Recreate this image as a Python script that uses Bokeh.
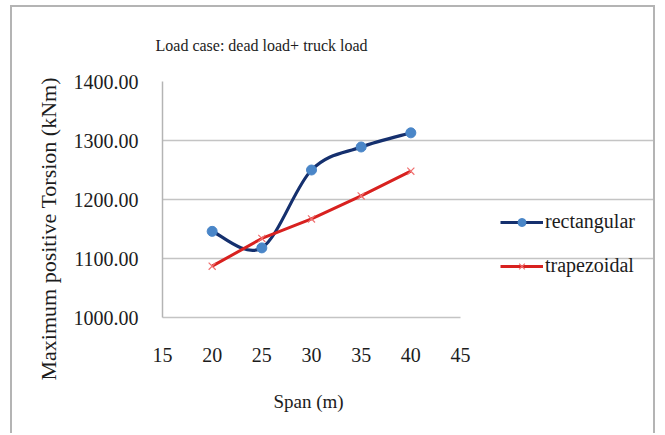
import numpy as np
from bokeh.plotting import figure
from bokeh.models import (Range1d, NumeralTickFormatter, FixedTicker, Legend, LegendItem, Title)
from bokeh.embed import file_html
from bokeh.resources import INLINE

title_text = "Load case: dead load+ truck load"
x_label = "Span (m)"
y_label = "Maximum positive Torsion (kNm)"

span = [20, 25, 30, 35, 40]
rectangular = [1146, 1118, 1250, 1289, 1313]
trapezoidal = [1087, 1134, 1167, 1206, 1248]
x_ticks = [15, 20, 25, 30, 35, 40, 45]
y_ticks = [1000, 1100, 1200, 1300, 1400]

FONT = "Liberation Serif"
TXT = "#1c1c1c"

# canvas placed at (OX, OY) inside a 2px grey chart border
OX, OY = 12, 7
W, H = 645, 428
PLOT_L, PLOT_R, PLOT_T, PLOT_B = 162, 460, 79, 317   # plot-area pixels
X0, X1 = 15, 45
# frame extends to the canvas right edge so the legend can sit in it;
# grid/axis are bounded to the 15..45 span
x_end = X1 + (OX + W - PLOT_R) * (X1 - X0) / (PLOT_R - PLOT_L)

p = figure(width=W, height=H, output_backend="svg", toolbar_location=None,
           x_range=Range1d(X0, x_end), y_range=Range1d(1000, 1400),
           min_border_left=PLOT_L - OX, min_border_right=0,
           min_border_top=PLOT_T - OY, min_border_bottom=(OY + H) - PLOT_B,
           margin=(5, 0, 0, 10),
           styles={"border": "2px solid #b4b4b4", "border-bottom": "none"})
p.outline_line_color = None
p.background_fill_color = "white"
p.border_fill_color = "white"

p.title.text = title_text
p.title.text_font = FONT
p.title.text_font_size = "16px"
p.title.text_font_style = "normal"
p.title.text_color = TXT
p.title.align = "left"
p.title.offset = -7
p.title.standoff = 55

# axes
p.xaxis.ticker = FixedTicker(ticks=x_ticks)
p.xaxis.bounds = (X0, X1)
p.yaxis.ticker = FixedTicker(ticks=y_ticks)
p.yaxis.formatter = NumeralTickFormatter(format="0.00")
for ax in (p.xaxis[0], p.yaxis[0]):
    ax.major_tick_line_color = None
    ax.minor_tick_line_color = None
    ax.major_label_text_font = FONT
    ax.major_label_text_font_size = "20px"
    ax.major_label_text_color = TXT
p.xaxis.axis_line_color = "#c4c4c4"
p.xaxis.axis_line_width = 1.5
p.yaxis.axis_line_color = "#b4b4b4"
p.yaxis.axis_line_width = 1.5
p.xaxis.major_label_standoff = 24
p.yaxis.major_label_standoff = 18

# axis titles (as side titles so they can be positioned like the original)
p.add_layout(Title(text=x_label, text_font=FONT, text_font_size="19px",
                   text_font_style="normal", text_color=TXT,
                   align="left", offset=273 - PLOT_L, standoff=48), "below")
p.add_layout(Title(text=y_label, text_font=FONT, text_font_size="22px",
                   text_font_style="normal", text_color=TXT,
                   align="left", offset=-63, standoff=19), "left")

p.xgrid.grid_line_color = None
p.ygrid.grid_line_color = "#c4c4c4"
p.ygrid.grid_line_width = 1.5
p.ygrid.bounds = (X0, X1)

# smoothed blue curve (cubic Bezier segments through the data points)
xs = np.array(span, dtype=float)
ys = np.array(rectangular, dtype=float)
xp = np.concatenate([[xs[0]], xs, [xs[-1]]])
yp = np.concatenate([[ys[0]], ys, [ys[-1]]])
x0, y0 = xs[:-1], ys[:-1]
x1, y1 = xs[1:], ys[1:]
cx0 = x0 + (xp[2:-1] - xp[:-3]) / 6.0
cy0 = y0 + (yp[2:-1] - yp[:-3]) / 6.0
cx1 = x1 - (xp[3:] - xp[1:-2]) / 6.0
cy1 = y1 - (yp[3:] - yp[1:-2]) / 6.0

BLUE_LINE = "#15306e"
BLUE_MARK = "#4a86c8"
RED_LINE = "#d8211f"
RED_MARK = "#f07070"

p.bezier(x0=x0, y0=y0, x1=x1, y1=y1, cx0=cx0, cy0=cy0, cx1=cx1, cy1=cy1,
         line_color=BLUE_LINE, line_width=3.2)
rect_pts = p.scatter(span, rectangular, marker="circle", size=10,
                     fill_color=BLUE_MARK, line_color=BLUE_MARK)

trap_line = p.line(span, trapezoidal, line_color=RED_LINE, line_width=3)
trap_pts = p.scatter(span, trapezoidal, marker="x", size=10,
                     line_color=RED_MARK, line_width=1.2)

# line used only for the legend swatch of the smoothed series
leg_rect_line = p.line([np.nan, np.nan], [np.nan, np.nan], line_color=BLUE_LINE, line_width=3.2)
legend = Legend(items=[
    LegendItem(label="rectangular", renderers=[leg_rect_line, rect_pts]),
    LegendItem(label="trapezoidal", renderers=[trap_line, trap_pts]),
], location=(500 - PLOT_L, 40))
legend.glyph_width = 43
legend.glyph_height = 20
legend.label_height = 20
legend.spacing = 21
legend.label_standoff = 2
legend.padding = 0
legend.margin = 0
legend.border_line_color = None
legend.background_fill_alpha = 0
legend.label_text_font = FONT
legend.label_text_font_size = "20px"
legend.label_text_color = TXT
p.add_layout(legend, "center")

open("out.html", "w").write(file_html(p, INLINE))
